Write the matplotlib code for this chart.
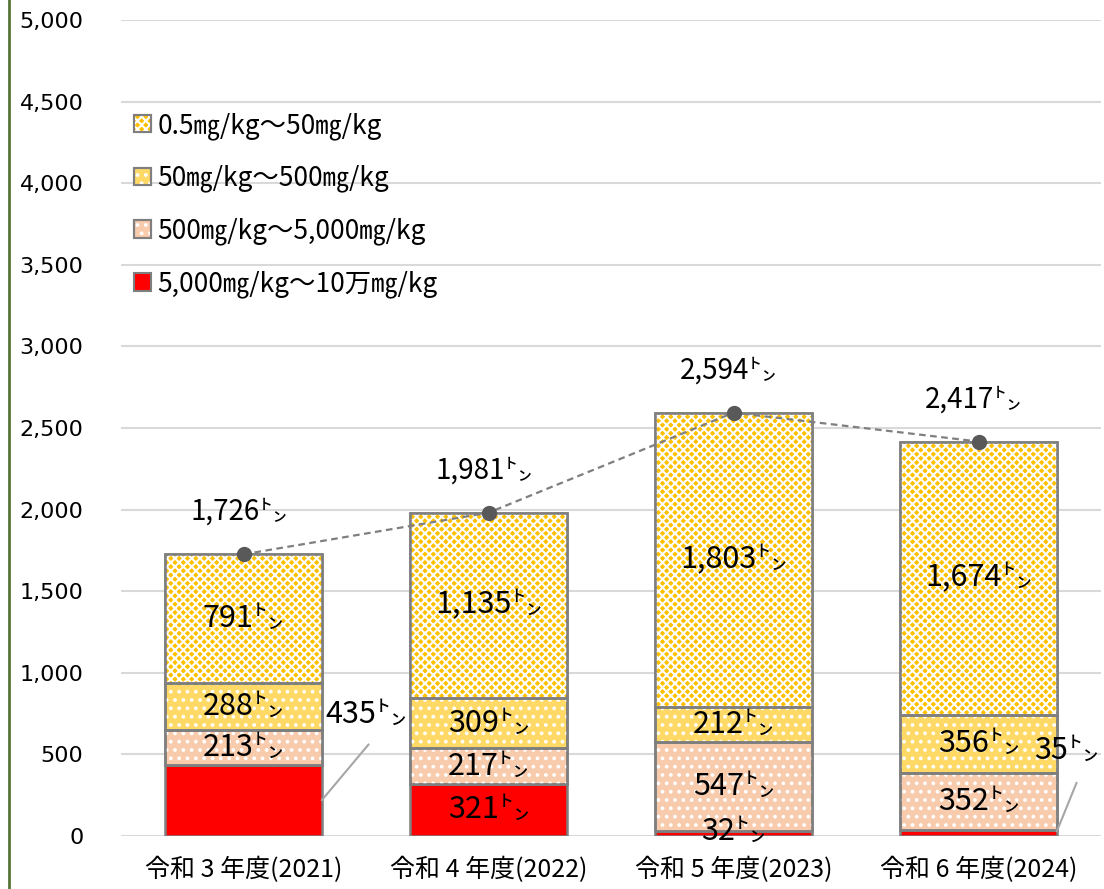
import matplotlib.pyplot as plt
from matplotlib.lines import Line2D
from matplotlib.patches import Patch
import numpy as np

plt.rcParams['font.family'] = ['Noto Sans CJK JP', 'DejaVu Sans']
plt.rcParams['hatch.linewidth'] = 1.5

years = ["令和 3 年度(2021)", "令和 4 年度(2022)", "令和 5 年度(2023)", "令和 6 年度(2024)"]
totals = [1726, 1981, 2594, 2417]
high = [435, 321, 32, 35]        # 5,000〜10万 mg/kg
mid = [213, 217, 547, 352]       # 500〜5,000 mg/kg
low = [288, 309, 212, 356]       # 50〜500 mg/kg
trace = [791, 1135, 1803, 1674]  # 0.5〜50 mg/kg
names = ["5,000㎎/kg～10万㎎/kg", "500㎎/kg～5,000㎎/kg",
         "50㎎/kg～500㎎/kg", "0.5㎎/kg～50㎎/kg"]

series = [high, mid, low, trace]
faces = ["#FF0000", "#F8CBAD", "#FFD966", "#FFC000"]
hatches = [None, "..", "..", "xxxx"]
edge = "#7F7F7F"
unit = "㌧"
fs_lab = 22

fig = plt.figure(figsize=(11.04, 8.89), dpi=100)
ax = fig.add_axes([121 / 1104, 53 / 889, 980 / 1104, 816 / 889])

x = np.arange(len(years))
w = 0.64
bottom = np.zeros(len(years))
handles = []
for k, (vals, fc, hat) in enumerate(zip(series, faces, hatches)):
    vals = np.array(vals, dtype=float)
    ax.bar(x, vals, w, bottom=bottom, color=fc, edgecolor=edge, linewidth=1.8, zorder=2)
    h = [Patch(facecolor=fc, edgecolor=edge, linewidth=1.5)]
    if hat:
        ax.bar(x, vals, w, bottom=bottom, facecolor="none", edgecolor="white",
               hatch=hat, linewidth=0, zorder=3)
        ax.bar(x, vals, w, bottom=bottom, facecolor="none", edgecolor=edge,
               linewidth=1.8, zorder=4)
        h.append(Patch(facecolor="none", edgecolor="white", hatch=hat, linewidth=0))
        h.append(Patch(facecolor="none", edgecolor=edge, linewidth=1.5))
    handles.append(tuple(h))
    for i, v in enumerate(vals):
        # thin red segments are labelled outside the bar below
        if k == 0 and i != 1:
            continue
        ax.text(x[i], bottom[i] + v / 2, f"{int(v):,}{unit}", ha="center", va="center",
                fontsize=fs_lab, zorder=6)
    bottom += vals

# red segment labels that sit outside their bars
ax.text(0.5, 747, f"{high[0]:,}{unit}", ha="center", va="center", fontsize=fs_lab, zorder=6)
ax.plot([0.32, 0.51], [220, 560], color="#A6A6A6", lw=1.5, zorder=5)
ax.text(2, 30, f"{high[2]:,}{unit}", ha="center", va="center", fontsize=fs_lab, zorder=6)
ax.text(3.36, 527, f"{high[3]:,}{unit}", ha="center", va="center", fontsize=fs_lab, zorder=6,
        clip_on=False)
ax.plot([3.32, 3.40], [30, 325], color="#A6A6A6", lw=1.5, zorder=5, clip_on=False)

# totals
ax.plot(x, totals, color="#7F7F7F", lw=1.6, dashes=(3, 2), marker="o", markersize=10,
        markerfacecolor="#595959", markeredgecolor="#595959", zorder=7)
for i, t in enumerate(totals):
    ax.text(x[i] - 0.02, t + 260, f"{t:,}{unit}", ha="center", va="center", fontsize=20, zorder=6)

ax.set_xlim(-0.5, 3.5)
ax.set_ylim(0, 5000)
ax.set_yticks(np.arange(0, 5001, 500))
ax.set_yticklabels([f"{v:,}" for v in range(0, 5001, 500)], fontsize=16, family="DejaVu Sans")
ax.set_xticks(x)
ax.set_xticklabels(years, fontsize=18)
ax.tick_params(axis="y", length=0, pad=27)
ax.tick_params(axis="x", length=0, pad=15)
ax.yaxis.grid(True, color="#D9D9D9", lw=1.5, zorder=0)
ax.set_axisbelow(True)
for s in ax.spines.values():
    s.set_visible(False)

ax.legend(handles[::-1], names[::-1], loc="upper left", bbox_to_anchor=(-0.006, 0.91),
          frameon=False, fontsize=19, handlelength=0.65, handleheight=0.65,
          handletextpad=0.25, labelspacing=0.95, borderaxespad=0.3)

fig.add_artist(Line2D([0.0078, 0.0078], [0, 1], color="#55753A", lw=2))

fig.savefig("out.png", dpi=100)
